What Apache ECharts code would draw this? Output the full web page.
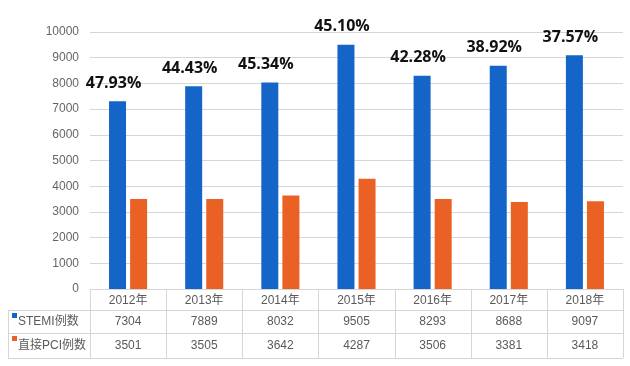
<!DOCTYPE html>
<html>
<head>
<meta charset="utf-8">
<script src="https://cdn.jsdelivr.net/npm/echarts@6/dist/echarts.min.js"></script>
<style>
html,body{margin:0;padding:0;background:#fff;}
#chart{width:630px;height:366px;}
</style>
</head>
<body>
<div id="chart"></div>
<script>
var categories = ['2012年','2013年','2014年','2015年','2016年','2017年','2018年'];
var seriesNames = ['STEMI例数','直接PCI例数'];
var stemiValues = [7304, 7889, 8032, 9505, 8293, 8688, 9097];
var pciValues = [3501, 3505, 3642, 4287, 3506, 3381, 3418];
var percentLabels = ['47.93%','44.43%','45.34%','45.10%','42.28%','38.92%','37.57%'];

var FONT = '"Liberation Sans", Arial, "Noto Sans CJK SC", sans-serif';
var BLUE = '#1565c8';
var ORANGE = '#ea6126';
var LINE = '#d6d6d6';
var TXT = '#5a5a5a';

var gridLeft = 90, gridRight = 7, gridTop = 32, gridBottom = 77;
var W = 630, H = 366;
var gridW = W - gridLeft - gridRight;
var axisY = H - gridBottom;
var rowH = [21, 23, 25];
var tableLeft = 8;

var graphics = [];
var y1 = axisY + rowH[0], y2 = y1 + rowH[1], y3 = y2 + rowH[2];
[y1, y2, y3].forEach(function (y) {
  graphics.push({type:'line', shape:{x1:tableLeft, y1:y+0.5, x2:gridLeft+gridW, y2:y+0.5}, style:{stroke:LINE, lineWidth:1}, silent:true});
});
graphics.push({type:'line', shape:{x1:tableLeft+0.5, y1:y1, x2:tableLeft+0.5, y2:y3}, style:{stroke:LINE, lineWidth:1}, silent:true});
for (var i = 0; i <= categories.length; i++) {
  var x = Math.round(gridLeft + i * gridW / categories.length) + 0.5;
  graphics.push({type:'line', shape:{x1:x, y1:axisY, x2:x, y2:y3}, style:{stroke:LINE, lineWidth:1}, silent:true});
}
var colors = [BLUE, ORANGE];
[y1, y2].forEach(function (y, k) {
  graphics.push({type:'rect', shape:{x:12, y:y+3, width:5, height:5}, style:{fill:colors[k]}, silent:true});
  graphics.push({type:'text', x:18, y:y + rowH[k+1]/2 + 0.5, style:{text:seriesNames[k], font:'12px ' + FONT, fill:TXT, textVerticalAlign:'middle', verticalAlign:'middle'}, silent:true});
});

var chart = echarts.init(document.getElementById('chart'), null, {renderer:'canvas'});
chart.setOption({
  animation:false,
  backgroundColor:'#fff',
  grid:{left:gridLeft, right:gridRight, top:gridTop, bottom:gridBottom},
  xAxis:[
    {type:'category', data:categories, position:'bottom',
     axisLine:{show:true, lineStyle:{color:LINE}}, axisTick:{show:false},
     axisLabel:{color:TXT, fontSize:12, fontFamily:FONT, margin:6}},
    {type:'category', data:stemiValues.map(String), position:'bottom', offset:rowH[0],
     axisLine:{show:false}, axisTick:{show:false},
     axisLabel:{color:TXT, fontSize:12, fontFamily:FONT, margin:6}},
    {type:'category', data:pciValues.map(String), position:'bottom', offset:rowH[0]+rowH[1],
     axisLine:{show:false}, axisTick:{show:false},
     axisLabel:{color:TXT, fontSize:12, fontFamily:FONT, margin:7}}
  ],
  yAxis:{type:'value', min:0, max:10000, interval:1000,
    axisLine:{show:false}, axisTick:{show:false},
    axisLabel:{color:'#666', fontSize:12, fontFamily:FONT, margin:11,
      formatter:function(v){return String(v);}},
    splitLine:{lineStyle:{color:LINE}}},
  series:[
    {name:seriesNames[0], type:'bar', data:stemiValues, barWidth:17, barGap:'24%',
     itemStyle:{color:BLUE},
     label:{show:true, position:'top', distance:10, offset:[-4,0],
       formatter:function(p){return percentLabels[p.dataIndex];},
       color:'#111', fontWeight:'bold', fontSize:16, fontFamily:'"Open Sans", sans-serif'}},
    {name:seriesNames[1], type:'bar', data:pciValues, barWidth:17,
     itemStyle:{color:ORANGE}}
  ],
  graphic:graphics
});
</script>
</body>
</html>
